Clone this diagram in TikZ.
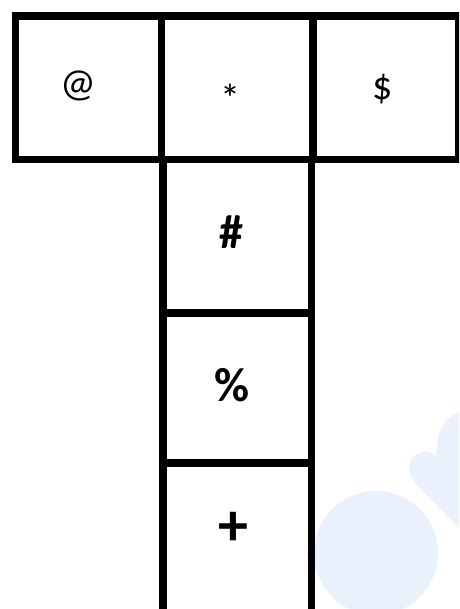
\documentclass[tikz,border=0pt]{standalone}
\usepackage{fontspec}
\setmainfont{Carlito}
\definecolor{wm}{RGB}{233,241,253}
\tikzset{
  cell/.style={draw=black, line width=7.5pt, minimum width=#1, inner sep=0pt, anchor=north west},
  sym/.style={inner sep=0pt, font=\fontsize{40}{40}\selectfont},
  bsym/.style={inner sep=0pt, font=\bfseries\fontsize{48}{48}\selectfont},
}
\begin{document}
\begin{tikzpicture}[x=1pt,y=-1pt]
\useasboundingbox (0,0) rectangle (459,609);
\clip (0,0) rectangle (459,609);
\fill[white] (0,0) rectangle (459,609);
% faint watermark
\fill[wm] (376,553) circle[radius=62];
\fill[wm] (306,553) -- (368,492) -- (368,614) -- cycle;
\fill[wm] (425,468) circle[radius=16];
\fill[wm] (436,458) .. controls (436,432) and (445,418) .. (459,412) -- (459,528) -- (413,481) -- cycle;
% top row
\node[cell=146pt, minimum height=143.5pt] (at) at (11.5,12.5) {};
\node[cell=151.5pt, minimum height=143.5pt] (star) at (157.5,12.5) {};
\node[cell=146pt, minimum height=143.5pt] (dollar) at (309,12.5) {};
% column
\node[cell=148.5pt, minimum height=153pt] (hash) at (159,156) {};
\node[cell=148.5pt, minimum height=150pt] (pct) at (159,309) {};
\node[cell=148.5pt, minimum height=170pt] (plus) at (159,459) {};
% labels
\node[sym] (tat) at (78,86) {@};
\node[sym] (tstar) at (230,98) {*};
\node[sym] (tdollar) at (383,89) {\$};
\node[bsym] (thash) at (231,232) {\#};
\node[bsym] (tpct) at (232,385) {\%};
\node[inner sep=0pt, font=\bfseries\fontsize{60}{60}\selectfont] (tplus) at (233,529) {+};
\end{tikzpicture}
\end{document}
